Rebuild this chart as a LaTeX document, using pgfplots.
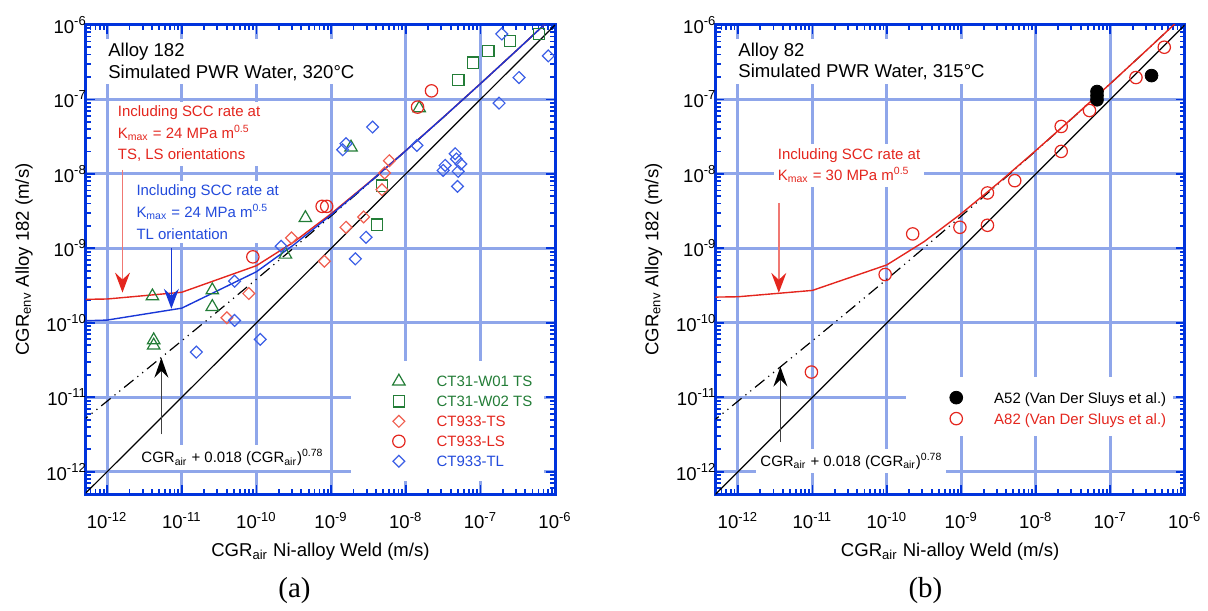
\documentclass[border=0pt]{standalone}
\usepackage{pgfplots}
\pgfplotsset{compat=1.18}
\usepackage{fontspec}
\setmainfont{Liberation Sans}
\newfontfamily\timesfont{Liberation Serif}
\usetikzlibrary{arrows.meta}

\definecolor{axblue}{RGB}{0,51,221}
\definecolor{gridblue}{RGB}{143,166,234}
\definecolor{mgreen}{RGB}{35,125,55}
\definecolor{mred}{RGB}{228,38,30}
\definecolor{lred}{RGB}{240,95,80}
\definecolor{mblue}{RGB}{60,95,230}
\definecolor{lblue}{RGB}{25,55,215}
\definecolor{arrowred}{RGB}{240,120,115}
\definecolor{tblue}{RGB}{35,75,220}

\newcommand\anfont{\fontsize{7.5}{10.8}\selectfont}
\newcommand\ttlfont{\fontsize{9.3}{10.85}\selectfont}
\newcommand\tlab[1]{10\textsuperscript{#1}}

\begin{document}
\begin{tikzpicture}
\path (0pt,0pt) rectangle (604pt,302.5pt);

% ---------------- (a) ----------------
\begin{axis}[
    at={(43pt,55pt)}, anchor=south west,
    scale only axis, width=235pt, height=235pt,
    xmode=log, ymode=log,
    xmin=5.19e-13, xmax=1e-6, ymin=5e-13, ymax=1e-6,
    xtick={1e-12,1e-11,1e-10,1e-9,1e-8,1e-7,1e-6},
    ytick={1e-12,1e-11,1e-10,1e-9,1e-8,1e-7,1e-6},
    xticklabels={\tlab{-12},\tlab{-11},\tlab{-10},\tlab{-9},\tlab{-8},\tlab{-7},\tlab{-6}},
    yticklabels={\tlab{-12},\tlab{-11},\tlab{-10},\tlab{-9},\tlab{-8},\tlab{-7},\tlab{-6}},
    minor xtick={5e-13,6e-13,7e-13,8e-13,9e-13,2e-12,3e-12,4e-12,5e-12,6e-12,7e-12,8e-12,9e-12,2e-11,3e-11,4e-11,5e-11,6e-11,7e-11,8e-11,9e-11,2e-10,3e-10,4e-10,5e-10,6e-10,7e-10,8e-10,9e-10,2e-9,3e-9,4e-9,5e-9,6e-9,7e-9,8e-9,9e-9,2e-8,3e-8,4e-8,5e-8,6e-8,7e-8,8e-8,9e-8,2e-7,3e-7,4e-7,5e-7,6e-7,7e-7,8e-7,9e-7},
    minor ytick={5e-13,6e-13,7e-13,8e-13,9e-13,2e-12,3e-12,4e-12,5e-12,6e-12,7e-12,8e-12,9e-12,2e-11,3e-11,4e-11,5e-11,6e-11,7e-11,8e-11,9e-11,2e-10,3e-10,4e-10,5e-10,6e-10,7e-10,8e-10,9e-10,2e-9,3e-9,4e-9,5e-9,6e-9,7e-9,8e-9,9e-9,2e-8,3e-8,4e-8,5e-8,6e-8,7e-8,8e-8,9e-8,2e-7,3e-7,4e-7,5e-7,6e-7,7e-7,8e-7,9e-7},
    grid=major,
    major grid style={line width=1.5pt,gridblue},
    axis line style={line width=1.5pt,axblue},
    tick align=inside,
    major tick length=4.5pt, minor tick length=2.5pt,
    tick style={axblue, line width=0.9pt},
    tick label style={font=\fontsize{9.3}{11}\selectfont},
    xticklabel style={yshift=-5.5pt},
    yticklabel style={xshift=4pt},
    label style={font=\fontsize{9.3}{11}\selectfont},
    xlabel={CGR\textsubscript{air} Ni-alloy Weld (m/s)},
    ylabel={CGR\textsubscript{env} Alloy 182 (m/s)},
    legend style={draw=none, fill=none, inner sep=0pt, column sep=15.8pt,
      font=\fontsize{7.5}{9}\selectfont,
      nodes={inner sep=0pt, text height=7.7pt, text depth=2.3pt},
      at={(0.653,0.1553)}, anchor=west},
    legend cell align=left,
  ]
\fill[white] (rel axis cs:0.566,0.0277) rectangle (rel axis cs:0.976,0.283);
\node[anchor=west, fill=white, inner sep=2pt, align=left, font=\ttlfont]
  at (rel axis cs:0.0384,0.9216) {Alloy 182\\Simulated PWR Water, 320°C};
\node[anchor=west, fill=white, inner sep=2pt, align=left, font=\anfont, text=mred]
  at (rel axis cs:0.059,0.768) {Including SCC rate at\\K\textsubscript{max} = 24 MPa m\textsuperscript{0.5}\\TS, LS orientations};
\node[anchor=west, fill=white, inner sep=2pt, align=left, font=\anfont, text=tblue]
  at (rel axis cs:0.0986,0.601) {Including SCC rate at\\K\textsubscript{max} = 24 MPa m\textsuperscript{0.5}\\TL orientation};
\node[anchor=west, fill=white, inner sep=2pt, font=\anfont]
  at (rel axis cs:0.1092,0.078) {CGR\textsubscript{air} + 0.018 (CGR\textsubscript{air})\textsuperscript{0.78}};

\addplot[forget plot, black, line width=0.6pt] coordinates {(1e-13,1e-13) (1e-6,1e-6)};
\addplot[forget plot, black, line width=0.6pt, dash pattern=on 6pt off 2.5pt on 0.6pt off 2.5pt on 0.6pt off 2.5pt] coordinates {(1e-13,1.404e-12) (3.162e-13,3.52e-12) (1e-12,8.857e-12) (3.162e-12,2.245e-11) (1e-11,5.736e-11) (3.162e-11,1.478e-10) (1e-10,3.852e-10) (3.162e-10,1.0164e-9) (1e-9,2.719e-9) (3.162e-9,7.382e-9) (1e-8,2.036e-8) (3.162e-8,5.705e-8) (1e-7,1.6243e-7) (3.162e-7,4.694e-7) (1e-6,1.376e-6)};
\addplot[forget plot, mred, line width=0.7pt] coordinates {(1e-13,2.014e-10) (1e-12,2.089e-10) (1e-11,2.574e-10) (1e-10,5.852e-10) (3.162e-10,1.2164e-9) (1e-9,2.919e-9) (3.162e-9,7.582e-9) (1e-8,2.056e-8) (3.162e-8,5.725e-8) (1e-7,1.6263e-7) (3.162e-7,4.696e-7) (1e-6,1.3762e-6)};
\addplot[forget plot, lblue, line width=0.7pt] coordinates {(1e-13,1.014e-10) (1e-12,1.089e-10) (1e-11,1.574e-10) (1e-10,4.852e-10) (3.162e-10,1.1164e-9) (1e-9,2.819e-9) (3.162e-9,7.482e-9) (1e-8,2.046e-8) (3.162e-8,5.715e-8) (1e-7,1.6253e-7) (3.162e-7,4.695e-7) (1e-6,1.376e-6)};

\addplot[only marks, mgreen, mark=triangle, mark size=3.6pt, mark options={solid,line width=0.6pt}] coordinates {(4.046e-12,2.280e-10) (2.564e-11,2.742e-10) (2.564e-11,1.641e-10) (4.207e-12,5.861e-11) (4.207e-12,4.977e-11) (4.529e-10,2.564e-9) (2.449e-10,8.260e-10) (1.849e-9,2.265e-8) (1.514e-8,7.638e-8)};
\addlegendentry{\textcolor{mgreen}{CT31-W01 TS}}
\addplot[only marks, mgreen, mark=square, mark size=2.8pt, mark options={solid,line width=0.6pt}] coordinates {(6.109e-7,7.568e-7) (2.472e-7,6.039e-7) (1.279e-7,4.477e-7) (7.980e-8,3.126e-7) (5.082e-8,1.832e-7) (4.808e-9,6.950e-9) (4.121e-9,2.084e-9)};
\addlegendentry{\textcolor{mgreen}{CT31-W02 TS}}
\addplot[only marks, lred, mark=square, mark size=2.1pt, mark options={solid,line width=0.6pt,rotate=45}] coordinates {(7.907e-11,2.477e-10) (4.018e-11,1.169e-10) (8.128e-10,6.714e-10) (2.951e-10,1.384e-9) (1.585e-9,1.919e-9) (2.729e-9,2.642e-9) (4.808e-9,6.138e-9) (5.212e-9,1.028e-8) (6.026e-9,1.503e-8)};
\addlegendentry{\textcolor{mred}{CT933-TS}}
\addplot[only marks, mred, mark=o, mark size=3.1pt, mark options={solid,line width=0.6pt}] coordinates {(8.954e-11,7.691e-10) (7.586e-10,3.664e-9) (8.730e-10,3.664e-9) (1.439e-8,7.889e-8) (2.213e-8,1.303e-7)};
\addlegendentry{\textcolor{mred}{CT933-LS}}
\addplot[only marks, mblue, mark=square, mark size=2.1pt, mark options={solid,line width=0.6pt,rotate=45}] coordinates {(5.093e-11,3.622e-10) (5.093e-11,1.076e-10) (1.125e-10,5.998e-11) (1.567e-11,4.046e-11) (2.143e-10,1.067e-9) (2.113e-9,7.228e-10) (2.938e-9,1.409e-9) (3.597e-9,4.256e-8) (1.429e-9,2.109e-8) (1.585e-9,2.541e-8) (1.413e-8,2.410e-8) (4.592e-8,1.866e-8) (4.775e-8,1.585e-8) (5.470e-8,1.358e-8) (3.373e-8,1.300e-8) (3.170e-8,1.114e-8) (5.035e-8,1.081e-8) (4.932e-8,6.792e-9) (1.778e-7,8.913e-8) (3.289e-7,1.968e-7) (8.110e-7,3.837e-7) (1.932e-7,7.568e-7)};
\addlegendentry{\textcolor{tblue}{CT933-TL}}

\draw[arrowred, line width=0.7pt, -{Stealth[length=10pt,width=7.5pt,inset=3.5pt,color=mred]}]
  (axis cs:1.607e-12,1.138e-8) -- (axis cs:1.607e-12,2.55e-10);
\draw[lblue, line width=0.7pt, -{Stealth[length=10pt,width=7.5pt,inset=3.5pt]}]
  (axis cs:7.26e-12,1e-9) -- (axis cs:7.26e-12,1.545e-10);
\draw[black!75, line width=0.7pt, -{Stealth[length=10pt,width=7pt,inset=3.5pt,color=black]}]
  (axis cs:5.33e-12,3.19e-12) -- (axis cs:5.33e-12,3.40e-11);
\end{axis}

% ---------------- (b) ----------------
\begin{axis}[
    at={(358.35pt,55pt)}, anchor=south west,
    scale only axis, width=235pt, height=235pt,
    xmode=log, ymode=log,
    xmin=5.0e-13, xmax=1e-6, ymin=5e-13, ymax=1e-6,
    xtick={1e-12,1e-11,1e-10,1e-9,1e-8,1e-7,1e-6},
    ytick={1e-12,1e-11,1e-10,1e-9,1e-8,1e-7,1e-6},
    xticklabels={\tlab{-12},\tlab{-11},\tlab{-10},\tlab{-9},\tlab{-8},\tlab{-7},\tlab{-6}},
    yticklabels={\tlab{-12},\tlab{-11},\tlab{-10},\tlab{-9},\tlab{-8},\tlab{-7},\tlab{-6}},
    minor xtick={5e-13,6e-13,7e-13,8e-13,9e-13,2e-12,3e-12,4e-12,5e-12,6e-12,7e-12,8e-12,9e-12,2e-11,3e-11,4e-11,5e-11,6e-11,7e-11,8e-11,9e-11,2e-10,3e-10,4e-10,5e-10,6e-10,7e-10,8e-10,9e-10,2e-9,3e-9,4e-9,5e-9,6e-9,7e-9,8e-9,9e-9,2e-8,3e-8,4e-8,5e-8,6e-8,7e-8,8e-8,9e-8,2e-7,3e-7,4e-7,5e-7,6e-7,7e-7,8e-7,9e-7},
    minor ytick={5e-13,6e-13,7e-13,8e-13,9e-13,2e-12,3e-12,4e-12,5e-12,6e-12,7e-12,8e-12,9e-12,2e-11,3e-11,4e-11,5e-11,6e-11,7e-11,8e-11,9e-11,2e-10,3e-10,4e-10,5e-10,6e-10,7e-10,8e-10,9e-10,2e-9,3e-9,4e-9,5e-9,6e-9,7e-9,8e-9,9e-9,2e-8,3e-8,4e-8,5e-8,6e-8,7e-8,8e-8,9e-8,2e-7,3e-7,4e-7,5e-7,6e-7,7e-7,8e-7,9e-7},
    grid=major,
    major grid style={line width=1.5pt,gridblue},
    axis line style={line width=1.5pt,axblue},
    tick align=inside,
    major tick length=4.5pt, minor tick length=2.5pt,
    tick style={axblue, line width=0.9pt},
    tick label style={font=\fontsize{9.3}{11}\selectfont},
    xticklabel style={yshift=-5.5pt},
    yticklabel style={xshift=4pt},
    label style={font=\fontsize{9.3}{11}\selectfont},
    xlabel={CGR\textsubscript{air} Ni-alloy Weld (m/s)},
    ylabel={CGR\textsubscript{env} Alloy 182 (m/s)},
    legend style={draw=none, fill=none, inner sep=0pt, column sep=15.8pt,
      font=\fontsize{7.5}{9}\selectfont,
      nodes={inner sep=0pt, text height=7.95pt, text depth=2.55pt},
      at={(0.4986,0.1834)}, anchor=west},
    legend cell align=left,
  ]
\fill[white] (rel axis cs:0.407,0.1234) rectangle (rel axis cs:0.976,0.249);
\node[anchor=west, fill=white, inner sep=2pt, align=left, font=\ttlfont]
  at (rel axis cs:0.0396,0.9219) {Alloy 82\\Simulated PWR Water, 315°C};
\node[anchor=west, fill=white, inner sep=2pt, align=left, font=\anfont, text=mred]
  at (rel axis cs:0.1235,0.7003) {Including SCC rate at\\K\textsubscript{max} = 30 MPa m\textsuperscript{0.5}};
\node[anchor=west, fill=white, inner sep=2pt, font=\anfont]
  at (rel axis cs:0.0864,0.0709) {CGR\textsubscript{air} + 0.018 (CGR\textsubscript{air})\textsuperscript{0.78}};

\addplot[forget plot, black, line width=0.6pt] coordinates {(1e-13,1e-13) (1e-6,1e-6)};
\addplot[forget plot, black, line width=0.6pt, dash pattern=on 6pt off 2.5pt on 0.6pt off 2.5pt on 0.6pt off 2.5pt] coordinates {(1e-13,1.404e-12) (3.162e-13,3.52e-12) (1e-12,8.857e-12) (3.162e-12,2.245e-11) (1e-11,5.736e-11) (3.162e-11,1.478e-10) (1e-10,3.852e-10) (3.162e-10,1.0164e-9) (1e-9,2.719e-9) (3.162e-9,7.382e-9) (1e-8,2.036e-8) (3.162e-8,5.705e-8) (1e-7,1.6243e-7) (3.162e-7,4.694e-7) (1e-6,1.376e-6)};
\addplot[forget plot, mred, line width=0.7pt] coordinates {(1e-13,2.164e-10) (1e-12,2.239e-10) (1e-11,2.724e-10) (1e-10,6.002e-10) (3.162e-10,1.2314e-9) (1e-9,2.934e-9) (3.162e-9,7.597e-9) (1e-8,2.0575e-8) (3.162e-8,5.7265e-8) (1e-7,1.6264e-7) (3.162e-7,4.696e-7) (1e-6,1.376e-6)};

\addplot[only marks, black, mark=*, mark size=3.2pt, mark options={solid,fill=black}] coordinates {(6.637e-8,1.276e-7) (6.637e-8,1.122e-7) (6.637e-8,9.886e-8) (3.581e-7,2.089e-7)};
\addlegendentry{A52 (Van Der Sluys et al.)}
\addplot[only marks, mred, mark=o, mark size=3.1pt, mark options={solid,line width=0.6pt}] coordinates {(9.705e-12,2.183e-11) (9.484e-11,4.457e-10) (2.223e-10,1.563e-9) (9.572e-10,1.919e-9) (2.244e-9,5.546e-9) (2.244e-9,2.042e-9) (5.212e-9,8.110e-9) (2.193e-8,4.335e-8) (2.193e-8,2.004e-8) (5.260e-8,7.096e-8) (2.213e-7,1.968e-7) (5.309e-7,5.023e-7)};
\addlegendentry{\textcolor{mred}{A82 (Van Der Sluys et al.)}}

\draw[arrowred, line width=0.7pt, -{Stealth[length=10pt,width=7.5pt,inset=3.5pt,color=mred]}]
  (axis cs:3.54e-12,4.07e-9) -- (axis cs:3.54e-12,2.53e-10);
\draw[black!75, line width=0.7pt, -{Stealth[length=10pt,width=7pt,inset=3.5pt,color=black]}]
  (axis cs:3.72e-12,2.51e-12) -- (axis cs:3.72e-12,2.58e-11);
\end{axis}

\node[font=\timesfont\fontsize{14.5}{16}\selectfont] at (147.5pt,6.5pt) {(a)};
\node[font=\timesfont\fontsize{14.5}{16}\selectfont] at (463.5pt,6.5pt) {(b)};
\end{tikzpicture}
\end{document}
